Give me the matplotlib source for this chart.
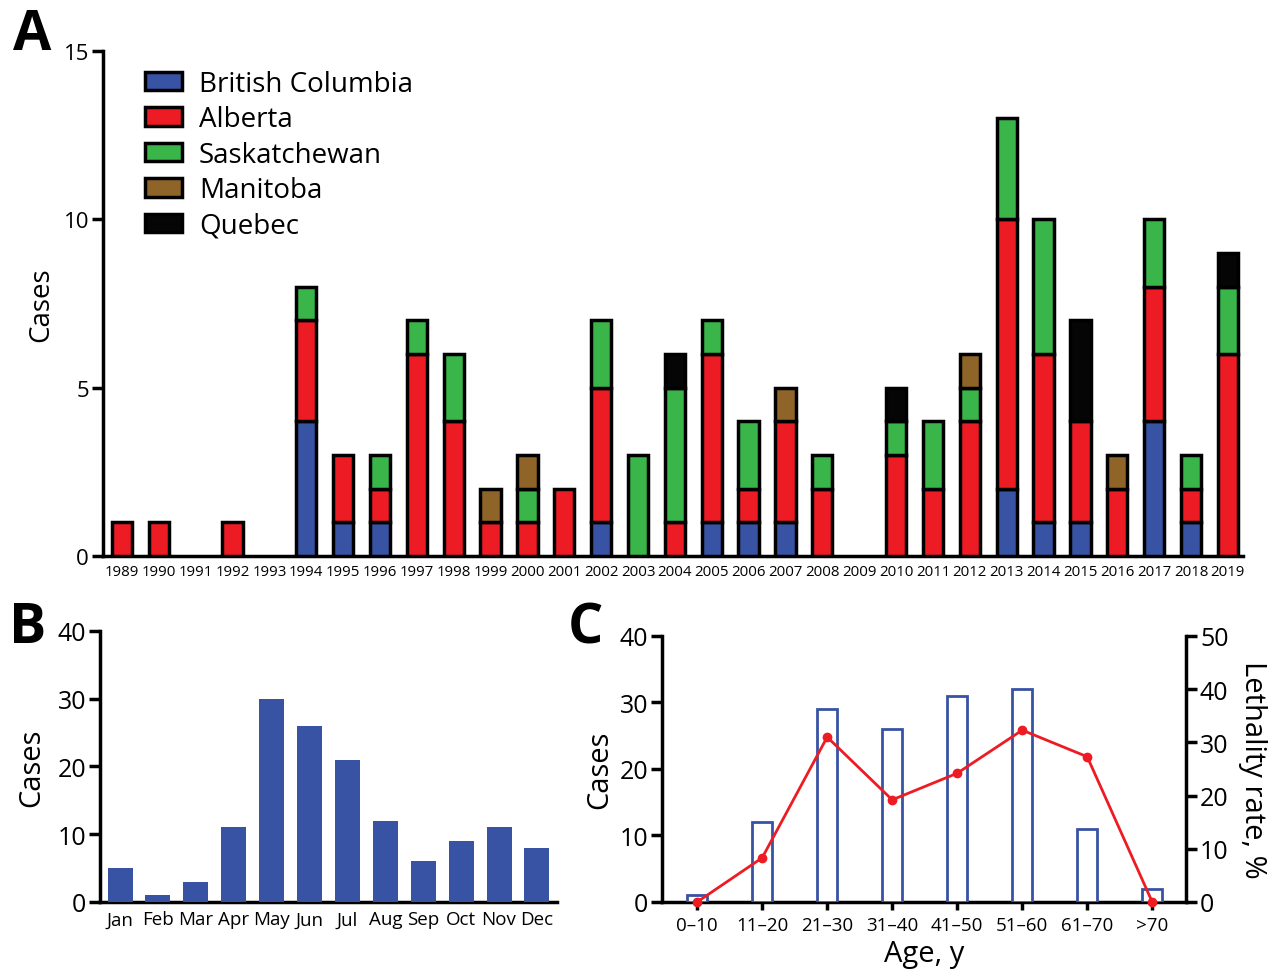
import numpy as np
import matplotlib
matplotlib.use("Agg")
from matplotlib import pyplot as plt
from matplotlib.patches import Patch

plt.rcParams['font.family'] = ['Open Sans', 'DejaVu Sans']

# Panel A: cases per year by province
years = [str(y) for y in range(1989, 2020)]
provinces = ['British Columbia', 'Alberta', 'Saskatchewan', 'Manitoba', 'Quebec']
colors = ['#3953A4', '#ED1C24', '#39B54A', '#8F6428', '#050505']
bc = [0, 0, 0, 0, 0, 4, 1, 1, 0, 0, 0, 0, 0, 1, 0, 0, 1, 1, 1, 0, 0, 0, 0, 0, 2, 1, 1, 0, 4, 1, 0]
ab = [1, 1, 0, 1, 0, 3, 2, 1, 6, 4, 1, 1, 2, 4, 0, 1, 5, 1, 3, 2, 0, 3, 2, 4, 8, 5, 3, 2, 4, 1, 6]
sk = [0, 0, 0, 0, 0, 1, 0, 1, 1, 2, 0, 1, 0, 2, 3, 4, 1, 2, 0, 1, 0, 1, 2, 1, 3, 4, 0, 0, 2, 1, 2]
mb = [0, 0, 0, 0, 0, 0, 0, 0, 0, 0, 1, 1, 0, 0, 0, 0, 0, 0, 1, 0, 0, 0, 0, 1, 0, 0, 0, 1, 0, 0, 0]
qc = [0, 0, 0, 0, 0, 0, 0, 0, 0, 0, 0, 0, 0, 0, 0, 1, 0, 0, 0, 0, 0, 1, 0, 0, 0, 0, 3, 0, 0, 0, 1]
series_a = [bc, ab, sk, mb, qc]

# Panel B: cases per month
months = ['Jan', 'Feb', 'Mar', 'Apr', 'May', 'Jun', 'Jul', 'Aug', 'Sep', 'Oct', 'Nov', 'Dec']
month_cases = [5, 1, 3, 11, 30, 26, 21, 12, 6, 9, 11, 8]

# Panel C: cases and lethality by age group
age_groups = ['0\u201310', '11\u201320', '21\u201330', '31\u201340', '41\u201350', '51\u201360', '61\u201370', '>70']
age_cases = [1, 12, 29, 26, 31, 32, 11, 2]
lethality = [0, 8.3, 31.0, 19.2, 24.2, 32.3, 27.3, 0]

BLUE = '#3953A4'
RED = '#ED1C24'
SPINE_W = 2.5


def style_axis(ax):
    for s in ['top', 'right']:
        ax.spines[s].set_visible(False)
    for s in ['left', 'bottom']:
        ax.spines[s].set_linewidth(SPINE_W)
    ax.tick_params(axis='y', length=8, width=SPINE_W, direction='out')


fig = plt.figure(figsize=(12.7, 9.7), dpi=100)

# ---- Panel A ----
axA = fig.add_axes([0.0811, 0.4258, 0.8976, 0.5206])
x = np.arange(len(years))
bottom = np.zeros(len(years))
for name, vals, col in zip(provinces, series_a, colors):
    vals = np.array(vals, dtype=float)
    m = vals > 0
    axA.bar(x[m], vals[m], width=0.55, bottom=bottom[m], color=col,
            edgecolor='black', linewidth=2.5, zorder=3)
    bottom += vals
axA.set_xlim(-0.515, len(years) - 1 + 0.41)
axA.set_ylim(0, 15)
axA.set_yticks([0, 5, 10, 15])
axA.set_xticks(x)
axA.set_xticklabels(years, fontsize=10.8)
axA.tick_params(axis='x', length=0, pad=6)
axA.tick_params(axis='y', labelsize=16, pad=2)
style_axis(axA)
axA.set_ylabel('Cases', fontsize=20, labelpad=6)
handles = [Patch(facecolor=c, edgecolor='black', linewidth=2.5) for c in colors]
axA.legend(handles, provinces, loc='upper left', bbox_to_anchor=(0.027, 0.985),
           frameon=False, fontsize=20, handlelength=1.35, handleheight=0.65,
           labelspacing=0.27, handletextpad=0.6, borderaxespad=0)

# ---- Panel B ----
axB = fig.add_axes([0.0787, 0.0691, 0.3599, 0.2794])
xb = np.arange(len(months))
axB.bar(xb, month_cases, width=0.66, color=BLUE, zorder=3)
axB.set_xlim(-0.53, len(months) - 1 + 0.53)
axB.set_ylim(0, 40)
axB.set_yticks([0, 10, 20, 30, 40])
axB.set_xticks(xb)
axB.set_xticklabels(months, fontsize=13.5)
axB.tick_params(axis='x', length=0, pad=6)
axB.tick_params(axis='y', labelsize=18, pad=2)
style_axis(axB)
axB.set_ylabel('Cases', fontsize=21, labelpad=8)

# ---- Panel C ----
axC = fig.add_axes([0.5213, 0.0691, 0.4126, 0.2742])
xc = np.arange(len(age_groups))
axC.bar(xc, age_cases, width=0.3, facecolor='white', edgecolor=BLUE,
        linewidth=2, zorder=3)
axC.set_xlim(-0.54, len(age_groups) - 1 + 0.52)
axC.set_ylim(0, 40)
axC.set_yticks([0, 10, 20, 30, 40])
axC.set_xticks(xc)
axC.set_xticklabels(age_groups, fontsize=13.5)
axC.tick_params(axis='x', length=6, width=SPINE_W, pad=4)
axC.tick_params(axis='y', labelsize=18, pad=2)
style_axis(axC)
axC.set_ylabel('Cases', fontsize=21, labelpad=4)
axC.set_xlabel('Age, y', fontsize=21, labelpad=4)

axC2 = axC.twinx()
axC2.plot(xc, lethality, color=RED, linewidth=2, marker='o', markersize=6,
          zorder=4, clip_on=False)
axC2.set_ylim(0, 50)
axC2.set_yticks([0, 10, 20, 30, 40, 50])
axC2.spines['top'].set_visible(False)
axC2.spines['left'].set_visible(False)
axC2.spines['bottom'].set_visible(False)
axC2.spines['right'].set_linewidth(SPINE_W)
axC2.tick_params(axis='y', length=8, width=SPINE_W, labelsize=18, pad=2)
axC2.set_ylabel('Lethality rate, %', fontsize=21, rotation=270, labelpad=28)

# panel letters
fig.text(0.025, 0.963, 'A', fontsize=40, fontweight='bold', ha='center', va='center')
fig.text(0.022, 0.352, 'B', fontsize=40, fontweight='bold', ha='center', va='center')
fig.text(0.461, 0.352, 'C', fontsize=40, fontweight='bold', ha='center', va='center')

fig.savefig('out.png', dpi=100)
